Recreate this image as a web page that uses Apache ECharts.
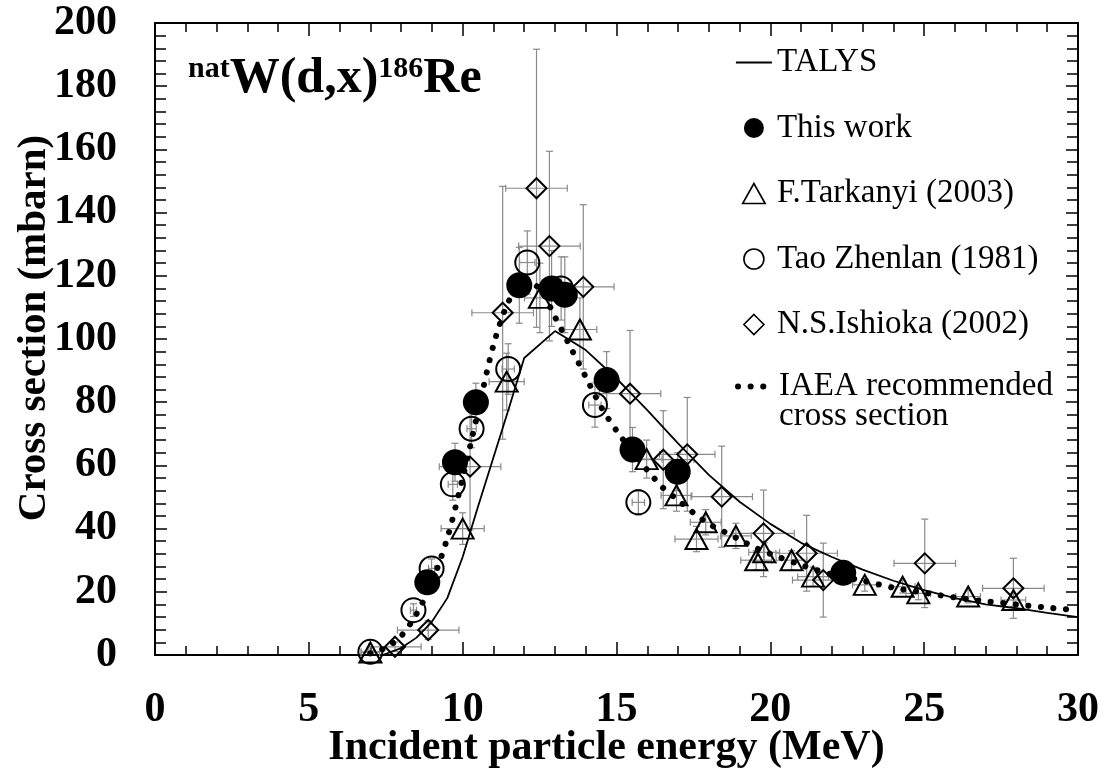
<!DOCTYPE html>
<html>
<head>
<meta charset="utf-8">
<script src="https://cdn.jsdelivr.net/npm/echarts@6/dist/echarts.min.js"></script>
<style>
  html, body { margin: 0; padding: 0; background: #fff; }
  #chart { width: 1105px; height: 773px; }
</style>
</head>
<body>
<div id="chart"></div>
<script>
// TALYS calculation
const talysE = [7.4, 8, 8.5, 9, 9.5, 10, 10.5, 11, 11.5, 12, 13, 14, 15, 16, 17, 18, 19, 20, 21, 22, 23, 24, 25, 26, 27, 28, 29, 30];
const talysSigma = [0, 2.2, 5.5, 10.5, 18, 31, 47, 62.5, 78, 94, 102.5, 96.5, 87.5, 77.5, 67, 57, 48.5, 41.5, 35.5, 31, 27, 23.5, 20.5, 18, 16, 14.8, 13.3, 12];

// IAEA recommended cross section
const iaeaE = [7, 7.5, 8, 8.5, 9, 9.5, 10, 10.5, 11, 11.5, 12, 12.5, 13, 13.5, 14, 14.5, 15, 15.5, 16, 16.5, 17, 17.5, 18, 18.5, 19, 19.5, 20, 21, 22, 23, 24, 25, 26, 27, 28, 29, 30];
const iaeaSigma = [0.5, 2.3, 6, 13, 23, 37, 56, 77, 98, 112, 118, 116, 107, 97.5, 88, 78.5, 71, 64.5, 58.5, 53, 49, 45, 41.5, 39, 36.5, 34, 32, 28.5, 25.5, 23.5, 21.3, 19.7, 18.2, 17, 16, 15, 14.2];

// This work
const thisE = [8.85, 9.75, 10.43, 11.84, 12.89, 13.32, 14.68, 15.52, 16.99, 22.37];
const thisSigma = [23, 61, 80, 117, 116, 114, 87, 65, 58, 26];
const thisDE = [0.15, 0.15, 0.15, 0.15, 0.15, 0.15, 0.15, 0.15, 0.15, 0.15];
const thisDSigma = [2.5, 6, 6, 12, 12, 12, 9, 7, 6, 3];

// F.Tarkanyi (2003)
const tarE = [7.0, 10.0, 11.43, 12.51, 13.81, 15.98, 16.95, 17.6, 17.9, 18.88, 19.54, 19.8, 20.69, 21.39, 23.07, 24.3, 24.81, 26.43, 27.9];
const tarSigma = [0.8, 40, 86.5, 113, 103, 62, 50.5, 36.7, 42, 37.7, 30, 32.5, 30, 24.8, 22.2, 21.6, 19.5, 18.5, 17.4];
const tarDE = [0.3, 0.7, 0.57, 0.5, 0.55, 0.5, 0.5, 0.7, 0.5, 0.5, 0.5, 0.5, 0.5, 0.5, 0.4, 0.4, 0.4, 0.4, 0.4];
const tarDSigma = [0.3, 5, 9, 11, 10, 6, 5, 4, 4, 4, 3, 3, 3, 3, 2, 2, 2, 2, 2];

// Tao Zhenlan (1981)
const taoE = [7.0, 8.4, 8.99, 9.68, 10.29, 11.48, 12.1, 13.2, 14.3, 15.71];
const taoSigma = [1.0, 14.2, 27.4, 54, 71.6, 90.5, 124.2, 116, 79.1, 48.3];
const taoDE = [0.3, 0.1, 0.1, 0.15, 0.15, 0.2, 0.25, 0.2, 0.2, 0.2];
const taoDSigma = [0.5, 2, 3, 5, 6, 8, 10, 10, 7, 4];

// N.S.Ishioka (2002)
const ishE = [7.8, 8.88, 10.24, 11.3, 12.4, 12.82, 13.92, 15.44, 16.52, 17.3, 18.42, 19.78, 21.18, 21.72, 25.02, 27.9];
const ishSigma = [2.6, 7.9, 59.6, 108.3, 147.7, 129.4, 116.5, 82.7, 61.8, 63.5, 50.1, 38.5, 32.2, 23.7, 29, 21.1];
const ishDE = [0.85, 1.0, 1.0, 1.0, 1.0, 1.0, 1.0, 1.0, 1.0, 0.9, 1.0, 1.0, 1.0, 1.0, 1.0, 1.0];
const ishDSigma = [1.5, 3, 20, 40, 44, 30, 26, 20, 15.5, 18, 16, 13.7, 12, 11.7, 14, 9.5];

const FONT = 'Liberation Serif';

const pairs = (xs, ys) => xs.map((x, i) => [x, ys[i]]);
const bars = (xs, ys, dxs, dys) => xs.map((x, i) => [x, ys[i], dxs[i], dys[i]]);

const errorData = [].concat(
  bars(thisE, thisSigma, thisDE, thisDSigma),
  bars(tarE, tarSigma, tarDE, tarDSigma),
  bars(taoE, taoSigma, taoDE, taoDSigma),
  bars(ishE, ishSigma, ishDE, ishDSigma)
);

function renderErrorBar(params, api) {
  const x = api.value(0), y = api.value(1), dx = api.value(2), dy = api.value(3);
  const cap = 3.5;
  const st = { stroke: '#8a8a8a', lineWidth: 1.2 };
  const kids = [];
  if (dy > 0) {
    const t = api.coord([x, y + dy]);
    const b = api.coord([x, Math.max(0, y - dy)]);
    kids.push({ type: 'line', shape: { x1: t[0], y1: t[1], x2: b[0], y2: b[1] }, style: st });
    kids.push({ type: 'line', shape: { x1: t[0] - cap, y1: t[1], x2: t[0] + cap, y2: t[1] }, style: st });
    kids.push({ type: 'line', shape: { x1: b[0] - cap, y1: b[1], x2: b[0] + cap, y2: b[1] }, style: st });
  }
  if (dx > 0) {
    const l = api.coord([x - dx, y]);
    const r = api.coord([x + dx, y]);
    kids.push({ type: 'line', shape: { x1: l[0], y1: l[1], x2: r[0], y2: r[1] }, style: st });
    kids.push({ type: 'line', shape: { x1: l[0], y1: l[1] - cap, x2: l[0], y2: l[1] + cap }, style: st });
    kids.push({ type: 'line', shape: { x1: r[0], y1: r[1] - cap, x2: r[0], y2: r[1] + cap }, style: st });
  }
  return { type: 'group', children: kids };
}

const chart = echarts.init(document.getElementById('chart'));

const tickLabel = { color: '#000', fontFamily: FONT, fontWeight: 'bold', fontSize: 42 };
const axisLine = { show: true, onZero: false, lineStyle: { color: '#000', width: 2 } };
// negative lengths make the ticks point into the plot
const xTick = { inside: false, length: -13, lineStyle: { color: '#000', width: 1.5 } };
const xMinor = { show: true, splitNumber: 5, length: -9, lineStyle: { color: '#000', width: 1.5 } };
const yTick = { inside: false, length: -12, lineStyle: { color: '#000', width: 1.5 } };
const yMinor = { show: true, splitNumber: 5, length: -11, lineStyle: { color: '#000', width: 1.5 } };
const hollow = { color: 'rgba(0,0,0,0)', borderColor: '#000', borderWidth: 2, opacity: 1 };
const noSymbol = { color: 'rgba(0,0,0,0)', borderWidth: 0 };

const option = {
  animation: false,
  backgroundColor: '#fff',
  grid: { left: 155, right: 27, top: 23, bottom: 118, outerBoundsMode: 'none' },
  graphic: [{
    type: 'text',
    left: 188,
    top: 54,
    style: {
      text: '{s|nat}{m|W(d,x)}{s|186}{m|Re}',
      rich: {
        s: { fontFamily: FONT, fontWeight: 'bold', fontSize: 30, lineHeight: 30, verticalAlign: 'top', fill: '#000' },
        m: { fontFamily: FONT, fontWeight: 'bold', fontSize: 50, lineHeight: 50, fill: '#000' }
      }
    }
  }],
  legend: [{
    orient: 'vertical',
    left: 735,
    top: 46,
    padding: 0,
    itemWidth: 36,
    itemHeight: 20,
    itemGap: 32.5,
    selectedMode: false,
    textStyle: { fontFamily: FONT, fontSize: 33, lineHeight: 32, color: '#000' },
    data: [
      { name: 'TALYS', itemStyle: noSymbol, lineStyle: { width: 1.8 } },
      { name: 'This work', icon: 'circle' },
      { name: 'F.Tarkanyi (2003)', icon: 'path://M9,0L18,16L0,16Z', itemStyle: { borderWidth: 1.6 } },
      { name: 'Tao Zhenlan (1981)', icon: 'circle', itemStyle: { borderWidth: 1.6 } },
      { name: 'N.S.Ishioka (2002)', icon: 'path://M8,0L16,8L8,16L0,8Z', itemStyle: { borderWidth: 1.6 } }
    ]
  }, {
    orient: 'vertical',
    left: 735,
    top: 340,
    padding: 0,
    itemWidth: 36,
    itemHeight: 20,
    selectedMode: false,
    textStyle: { fontFamily: FONT, fontSize: 33, lineHeight: 30, color: '#000' },
    formatter: function () { return '\nIAEA recommended\ncross section'; },
    data: [{ name: 'IAEA recommended cross section', itemStyle: noSymbol, lineStyle: { width: 6 } }]
  }],
  xAxis: [{
    type: 'value',
    min: 0, max: 30, interval: 5,
    position: 'bottom',
    name: 'Incident particle energy (MeV)',
    nameLocation: 'middle',
    nameGap: 72,
    nameMoveOverlap: false,
    nameTextStyle: { color: '#000', fontFamily: FONT, fontWeight: 'bold', fontSize: 42, padding: [0, 20, 0, 0] },
    axisLine: axisLine,
    axisTick: xTick,
    minorTick: xMinor,
    axisLabel: Object.assign({ margin: 34 }, tickLabel),
    splitLine: { show: false }
  }, {
    type: 'value',
    min: 0, max: 30, interval: 5,
    position: 'top',
    axisLine: axisLine,
    axisTick: xTick,
    minorTick: xMinor,
    axisLabel: { show: false },
    splitLine: { show: false }
  }],
  yAxis: [{
    type: 'value',
    min: 0, max: 200, interval: 20,
    position: 'left',
    name: 'Cross section (mbarn)',
    nameLocation: 'middle',
    nameGap: 100,
    nameMoveOverlap: false,
    nameTextStyle: { color: '#000', fontFamily: FONT, fontWeight: 'bold', fontSize: 41, padding: [0, 0, 0, 22] },
    axisLine: axisLine,
    axisTick: yTick,
    minorTick: yMinor,
    axisLabel: Object.assign({ margin: 38 }, tickLabel),
    splitLine: { show: false }
  }, {
    type: 'value',
    min: 0, max: 200, interval: 20,
    position: 'right',
    axisLine: axisLine,
    axisTick: yTick,
    minorTick: yMinor,
    axisLabel: { show: false },
    splitLine: { show: false }
  }],
  series: [
    {
      name: 'error bars',
      type: 'custom',
      renderItem: renderErrorBar,
      data: errorData,
      z: 1,
      silent: true
    },
    {
      name: 'TALYS',
      type: 'line',
      data: pairs(talysE, talysSigma),
      symbol: 'none',
      lineStyle: { color: '#000', width: 1.8 },
      itemStyle: { color: '#000' },
      z: 3
    },
    {
      name: 'IAEA recommended cross section',
      type: 'line',
      data: pairs(iaeaE, iaeaSigma),
      symbol: 'none',
      smooth: 0.3,
      lineStyle: { color: '#000', width: 6, type: [0.1, 12.5], cap: 'round' },
      itemStyle: { color: '#000' },
      z: 3
    },
    {
      name: 'F.Tarkanyi (2003)',
      type: 'scatter',
      data: pairs(tarE, tarSigma),
      symbol: 'triangle',
      symbolSize: [22, 20],
      itemStyle: hollow,
      z: 4
    },
    {
      name: 'Tao Zhenlan (1981)',
      type: 'scatter',
      data: pairs(taoE, taoSigma),
      symbol: 'circle',
      symbolSize: 24,
      itemStyle: hollow,
      z: 4
    },
    {
      name: 'N.S.Ishioka (2002)',
      type: 'scatter',
      data: pairs(ishE, ishSigma),
      symbol: 'diamond',
      symbolSize: 20,
      itemStyle: hollow,
      z: 4
    },
    {
      name: 'This work',
      type: 'scatter',
      data: pairs(thisE, thisSigma),
      symbol: 'circle',
      symbolSize: 26,
      itemStyle: { color: '#000', opacity: 1 },
      z: 5
    }
  ]
};

chart.setOption(option);
</script>
</body>
</html>
